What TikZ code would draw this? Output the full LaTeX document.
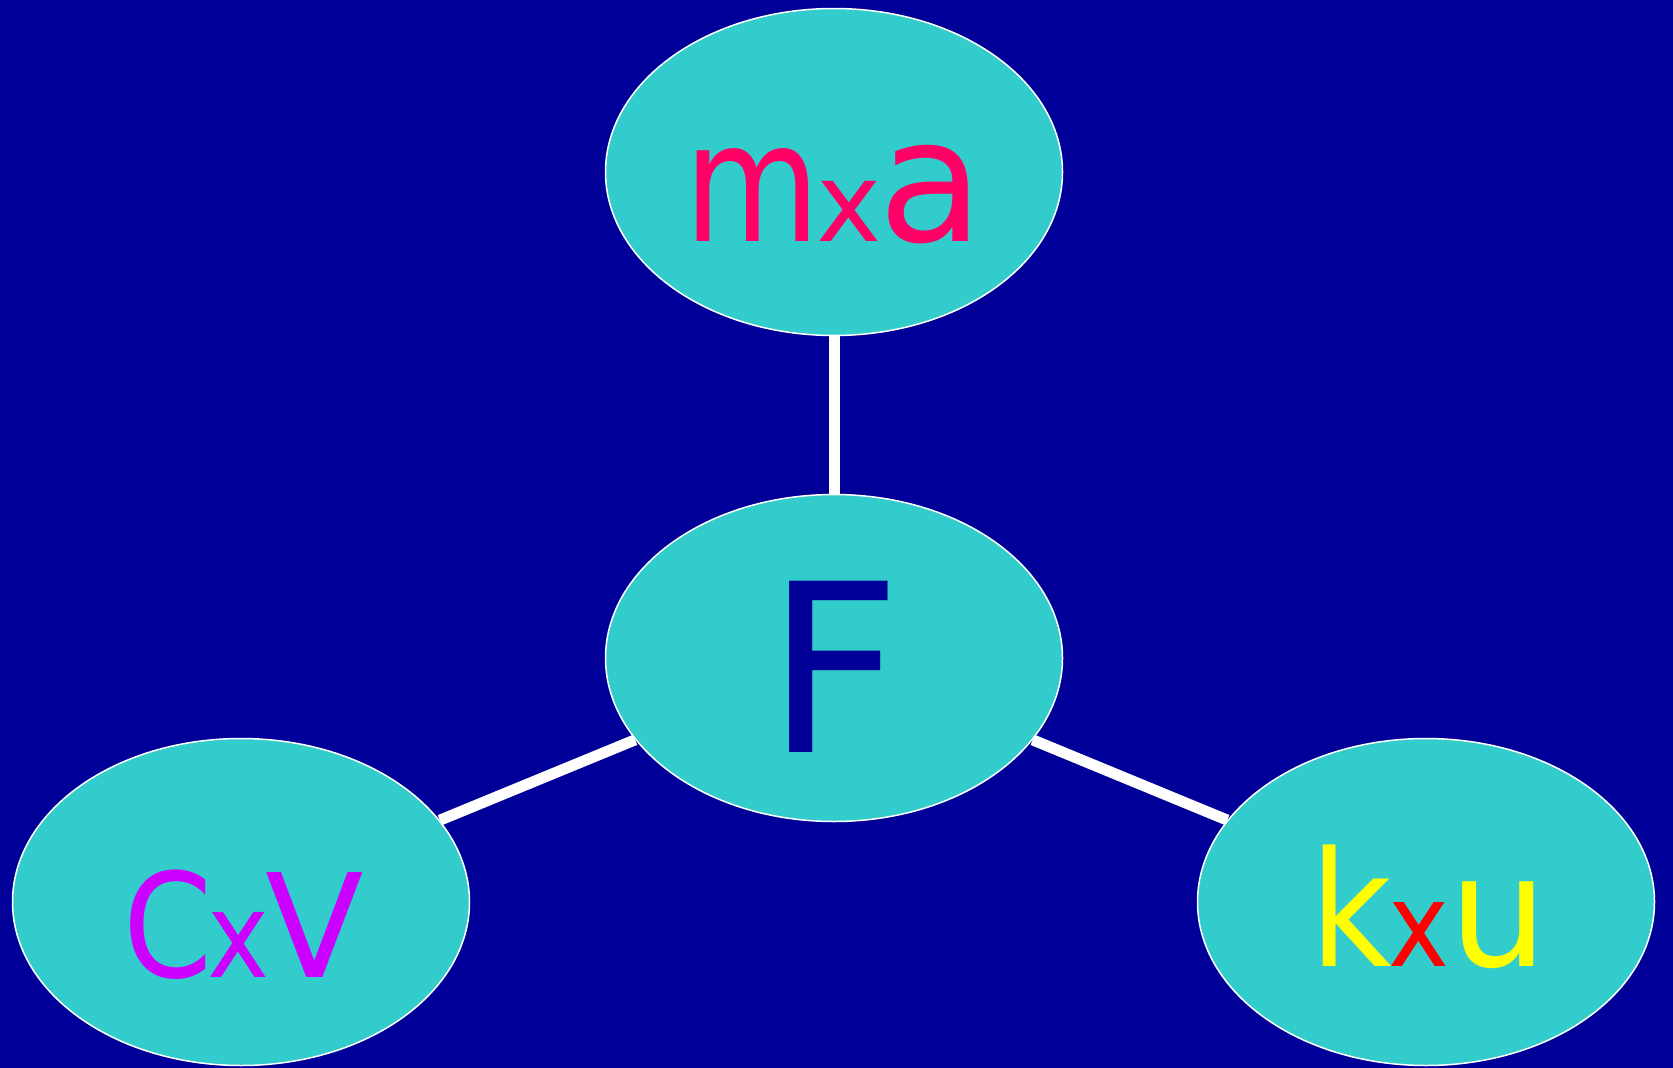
\documentclass[tikz,border=0pt]{standalone}
\usepackage{fontspec}
\setmainfont{DejaVu Sans}
\newfontfamily\nar[FakeStretch=0.88]{DejaVu Sans}
\newfontfamily\narr[FakeStretch=0.84]{DejaVu Sans}
\usetikzlibrary{shapes.geometric}
\definecolor{bgblue}{HTML}{000099}
\definecolor{teal}{HTML}{33CCCC}
\definecolor{rosered}{HTML}{FF0066}
\definecolor{violet}{HTML}{CC00FF}
\definecolor{yel}{HTML}{FFFF00}
\definecolor{pure}{HTML}{FF0000}
\newcommand{\fs}[1]{\fontsize{#1}{#1}\selectfont}
\tikzset{
  blob/.style={ellipse, fill=teal, draw=white, line width=1.5pt,
    minimum width=457pt, minimum height=327pt, inner sep=0pt},
  link/.style={draw=white, line width=11pt},
  label/.style={anchor=base, inner sep=0pt, outer sep=0pt}
}
\begin{document}
\begin{tikzpicture}[x=1pt,y=-1pt]
  \fill[bgblue] (0,0) rectangle (1673,1068);
  \useasboundingbox (0,0) rectangle (1673,1068);
  % the four ellipses
  \node[blob] (top) at (834,172) {};
  \node[blob] (mid) at (834,658) {};
  \node[blob] (left) at (241,902) {};
  \node[blob] (right) at (1426,902) {};
  % connectors between the centre and the outer ellipses
  \draw[link] (top) -- (mid);
  \draw[link] (mid) -- (left);
  \draw[link] (mid) -- (right);
  % formulas
  \node[label, text=rosered] (tmass) at (834,241)
    {{\narr\fs{166}m}\kern-4pt{\fs{110}x}\kern-3pt{\fs{172}a}};
  \node[label, text=bgblue] (tforce) at (834,752) {\fs{235}F};
  \node[label, text=violet] (tdamp) at (244,977)
    {{\nar\fs{145}C}\kern-5pt{\nar\fs{119}x}\kern-4pt{\fs{144}V}};
  \node[label, text=yel] (tspring) at (1429,966)
    {{\nar\fs{160}k}\kern-4pt\textcolor{pure}{\nar\fs{117}x}{\fs{155}u}};
\end{tikzpicture}
\end{document}
